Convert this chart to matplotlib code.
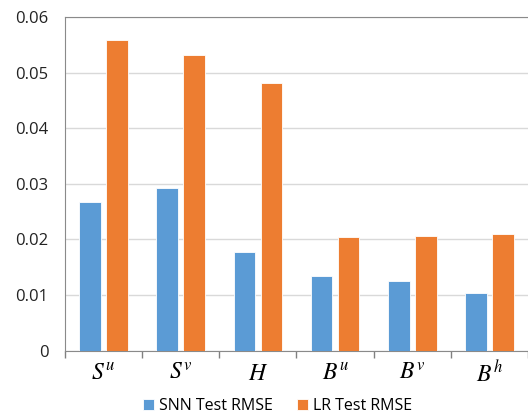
import numpy as np
import matplotlib.pyplot as plt
from matplotlib.ticker import FixedLocator

# values
categories = [r'$S^u$', r'$S^v$', r'$H$', r'$B^u$', r'$B^v$', r'$B^h$']
snn_rmse = [0.0267, 0.0292, 0.0177, 0.0134, 0.0125, 0.0103]
lr_rmse = [0.0559, 0.0532, 0.0481, 0.0204, 0.0207, 0.0209]
y_ticks = [0, 0.01, 0.02, 0.03, 0.04, 0.05, 0.06]
y_labels = ['0', '0.01', '0.02', '0.03', '0.04', '0.05', '0.06']

plt.rcParams['font.family'] = ['Open Sans', 'DejaVu Sans']
plt.rcParams['mathtext.fontset'] = 'stix'

fig = plt.figure(figsize=(5.28, 4.15), dpi=100)
ax = fig.add_axes([0.123, 0.155, 0.877, 0.804])

x = np.arange(len(categories))
w = 0.28
ax.bar(x - 0.175, snn_rmse, w, color='#5B9BD5', edgecolor='white', linewidth=0.6,
       label='SNN Test RMSE', zorder=3)
ax.bar(x + 0.175, lr_rmse, w, color='#ED7D31', edgecolor='white', linewidth=0.6,
       label='LR Test RMSE', zorder=3)

ax.set_xlim(-0.5, len(categories) - 0.5)
ax.set_ylim(0, 0.06)
ax.set_yticks(y_ticks)
ax.set_yticklabels(y_labels)
ax.grid(axis='y', color='#d9d9d9', linewidth=1, zorder=0)

ax.set_xticks(x)
ax.set_xticklabels(categories, fontsize=17)
ax.xaxis.set_minor_locator(FixedLocator(np.arange(-0.5, len(categories), 1.0)))
ax.tick_params(axis='x', which='major', length=0, pad=8)
ax.tick_params(axis='x', which='minor', length=5, color='#808080', width=1)
ax.tick_params(axis='y', length=0, pad=12, labelsize=12, labelcolor='#222222')

for s in ['left', 'bottom', 'top']:
    ax.spines[s].set_color('#8a8a8a')
ax.spines['right'].set_visible(False)

ax.legend(loc='upper center', bbox_to_anchor=(0.459, -0.1), ncol=2, frameon=False,
          fontsize=11.5, handlelength=0.7, handleheight=0.7, handletextpad=0.3,
          columnspacing=1.5)

fig.savefig('out.png', dpi=100)
